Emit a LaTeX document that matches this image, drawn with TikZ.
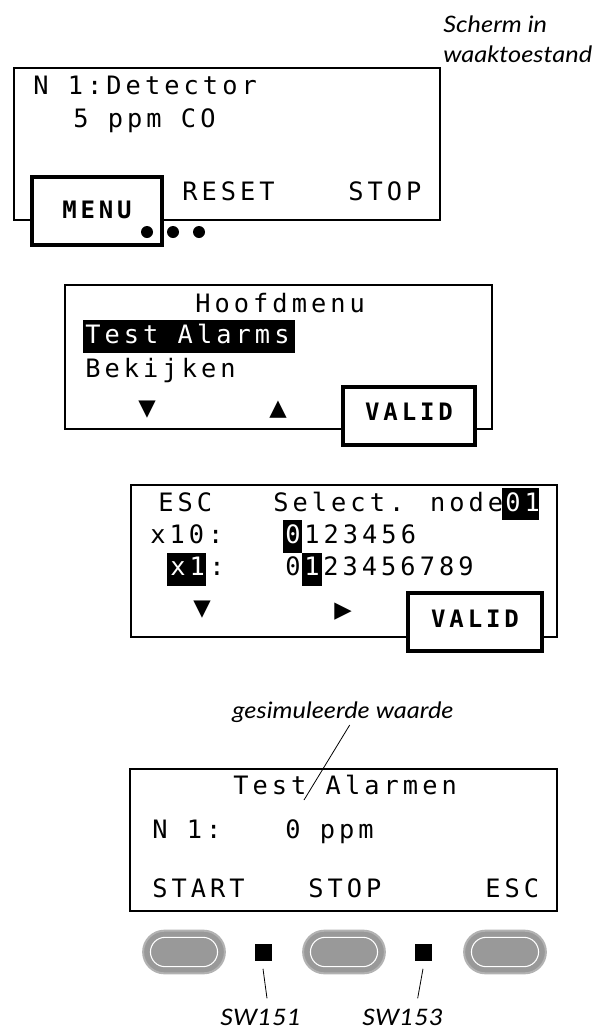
\documentclass[tikz,border=0pt]{standalone}
\usepackage{fontspec}
\usetikzlibrary{shapes.misc}
\newfontfamily\lcdfont[LetterSpace=16]{DejaVu Sans Mono}
\newfontfamily\notefont[FakeStretch=1.12]{Lato}
\newfontfamily\symfont{DejaVu Sans}

\begin{document}
\begin{tikzpicture}[x=0.75pt, y=-0.75pt,
  frame/.style={line width=2.2pt},
  keybox/.style={line width=3.6pt, fill=white},
  lcd/.style={anchor=base west, inner sep=0pt, font=\lcdfont\fontsize{19}{21}\selectfont},
  inv/.style={lcd, text=white},
  keytxt/.style={anchor=base, inner sep=0pt, font=\lcdfont\bfseries\fontsize{18}{20}\selectfont},
  arrowsym/.style={inner sep=0pt, font=\symfont\fontsize{17}{18}\selectfont},
  note/.style={anchor=base west, inner sep=0pt, font=\notefont\itshape\fontsize{17}{20}\selectfont},
  lead/.style={line width=0.6pt},
  btn/.style={rounded rectangle, minimum width=68pt, minimum height=32pt, fill=black!40, draw=black!30, line width=1.5pt},
  btnrim/.style={rounded rectangle, minimum width=57pt, minimum height=22pt, draw=white, line width=0.8pt},
  swbox/.style={fill=black, minimum size=12.75pt, inner sep=0pt}]
\path (0,0) rectangle (597,1028);

\node[note] (scherm) at (443,32) {Scherm in};
\node[note] (waak) at (443,62) {waaktoestand};
\draw[frame] (14,68) rectangle (440,220);
\node[lcd] (rowAa) at (33,94) {N 1:Detector};
\node[lcd] (rowAb) at (73,127) {5 ppm CO};
\node[lcd] (reset) at (182,200) {RESET};
\node[lcd] (stopA) at (348,200) {STOP};
\draw[keybox] (32,177) rectangle (162,245);
\node[keytxt] (menu) at (97,218) {MENU};
\fill (147,232) circle (6);
\fill (173,232) circle (6);
\fill (199,232) circle (6);

\draw[frame] (65,285) rectangle (492,429);
\node[lcd] (hoofd) at (195,312) {Hoofdmenu};
\fill (83,320) rectangle (295,353);
\node[inv] (testal) at (85,343) {Test Alarms};
\node[lcd] (bekijk) at (85,377) {Bekijken};
\node[arrowsym] (downB) at (147,410) {▼};
\node[arrowsym] (upB) at (278,410) {▲};
\draw[keybox] (343,387) rectangle (475,445);
\node[keytxt] (validB) at (409,420) {VALID};

\draw[frame] (131,485) rectangle (557,637);
\fill (502,488) rectangle (539,520);
\fill (283,520) rectangle (302,553);
\fill (167,553) rectangle (206,586);
\fill (302,553) rectangle (322,586);
\node[lcd] (esc) at (158,511) {ESC};
\node[lcd] (selnode) at (273,511) {Select. node};
\node[inv] (nodenr) at (505,511) {01};
\node[lcd] (tens) at (150,543) {x10:};
\node[inv] (tenssel) at (285,543) {0};
\node[lcd] (tensdig) at (304,543) {123456};
\node[inv] (ones) at (170,575) {x1};
\node[lcd] (onescol) at (209,575) {:};
\node[lcd] (onesdig) at (285,575) {0};
\node[inv] (onessel) at (304,575) {1};
\node[lcd] (onesrest) at (323,575) {23456789};
\node[arrowsym] (downC) at (202,610) {▼};
\node[arrowsym] (rightC) at (343,612) {▶};
\draw[keybox] (408,593) rectangle (542,651);
\node[keytxt] (validC) at (475,627) {VALID};

\node[note, anchor=base] (sim) at (343,718) {gesimuleerde waarde};
\coordinate (simtip) at (304,800);
\draw[frame] (130,769) rectangle (557,911);
\node[lcd] (testalm) at (233,794) {Test Alarmen};
\node[lcd] (nodeD) at (152,838) {N 1:};
\node[lcd] (ppm) at (285,838) {0 ppm};
\node[lcd] (start) at (152,897) {START};
\node[lcd] (stopD) at (308,897) {STOP};
\node[lcd] (escD) at (485,897) {ESC};
\draw[lead] ([xshift=5pt,yshift=-2pt]sim.south) -- (simtip);

\foreach \bx/\nm in {184/btnA, 344/btnB, 505/btnC} {
  \node[btn] (\nm) at (\bx,952) {};
  \node[btnrim] at (\nm) {};
}
\node[swbox] (swA) at (263,952) {};
\node[swbox] (swB) at (423,952) {};
\node[note, anchor=base] (labA) at (261,1025) {SW151};
\node[note, anchor=base] (labB) at (403,1025) {SW153};
\draw[lead] ([yshift=-6pt]swA.south) -- ([xshift=4.5pt,yshift=7.5pt]labA.north);
\draw[lead] ([yshift=-6pt]swB.south) -- ([xshift=11pt,yshift=7.5pt]labB.north);
\end{tikzpicture}
\end{document}
